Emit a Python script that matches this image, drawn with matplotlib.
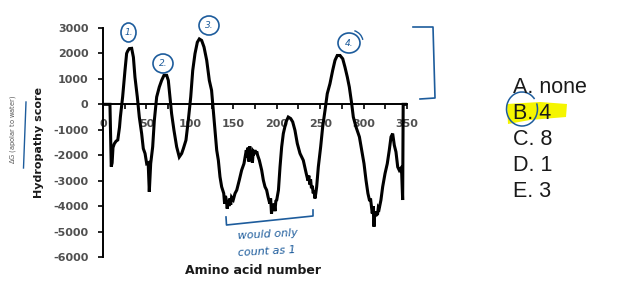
import matplotlib
matplotlib.use('Agg')
import matplotlib.pyplot as plt
from matplotlib.patches import Ellipse, Arc, Polygon
from matplotlib.lines import Line2D

plt.rcParams['axes.unicode_minus'] = False

# hydropathy profile (residue number, score)
residue = [0, 8, 9.5, 10.5, 11.5, 13, 15, 17, 19, 20, 22.6, 25.3, 27.2, 28.5, 30.3, 33, 35,
           36.8, 39.5, 41.8, 44.5, 46.4, 48.4, 50.3, 52, 53.3, 54.9, 57.2, 59.1, 61.8,
           64.8, 67.5, 70.2, 73.3, 75.2, 77.1, 79, 81.7, 84.8, 87.8, 90.6, 92.5, 95.5,
           98.2, 101, 103.3, 105.9, 108.6, 110.9, 113.6, 116.3, 119.4, 122.4, 125, 127,
           129, 130.9, 132.8, 134.7, 136.6, 139, 140, 141, 142, 143, 144, 145, 146, 147,
           148, 150, 152, 154, 156.9, 159.6, 162.3, 165, 166, 167, 168, 169, 170, 171,
           172, 173, 174, 175, 176, 177, 178, 180, 182.7, 184.6, 186.5, 188.4, 190, 192,
           193, 194, 195, 196, 197, 198, 199, 200, 202, 203.8, 205.7, 207.6, 210.7,
           213.3, 216.1, 218.4, 221, 223.7, 226.8, 230.6, 234, 236, 237, 238, 239, 240,
           241, 242, 243, 244, 245, 246, 247.9, 250.6, 252.9, 255.6, 258.2, 261.3,
           264.4, 267.1, 269.7, 272.9, 276, 278.6, 281.3, 283.6, 286.3, 288.2, 291.3,
           295.2, 297.8, 300.5, 302.8, 305, 307, 308, 310, 311, 312, 313, 314, 315, 316,
           317, 318, 320, 322, 324.7, 327.3, 329.6, 331.6, 333.5, 335.4, 337.3, 339.3,
           341.1, 342.7, 343.9, 345, 345.6, 350]
score = [0, 0, -2450, -2300, -1700, -1550, -1450, -1400, -900, -500, 290, 1330, 2000, 2100,
         2190, 2200, 1850, 1070, 290, -500, -1150, -1740, -1930, -2330, -2300, -3440,
         -2330, -1670, -630, 290, 680, 940, 1140, 1140, 940, 290, -370, -1020, -1670,
         -2070, -1930, -1740, -1410, -630, 290, 1330, 1990, 2440, 2570, 2510, 2250,
         1730, 940, 550, -240, -1020, -1800, -2200, -2850, -3240, -3500, -3900, -3600,
         -3760, -4100, -3800, -4000, -3700, -3950, -3650, -3750, -3500, -3370, -2980,
         -2590, -2330, -1800, -2100, -1700, -2250, -1650, -2000, -1900, -2300, -1850,
         -1900, -1800, -1950, -1850, -2000, -2200, -2590, -2980, -3240, -3370, -3630,
         -3900, -3700, -4300, -3950, -4100, -3900, -4200, -3800, -3760, -3370, -2460,
         -1670, -1150, -690, -500, -560, -690, -1020, -1540, -1930, -2200, -2720,
         -3000, -2800, -3150, -2950, -3300, -3200, -3500, -3400, -3700, -3500, -3240,
         -2460, -1670, -890, -240, 420, 810, 1330, 1730, 1920, 1920, 1790, 1460, 1070,
         680, 30, -500, -890, -1280, -1800, -2330, -2980, -3500, -3800, -3700, -4290,
         -4000, -4810, -4200, -4400, -4250, -4350, -4050, -4100, -3760, -3240, -2720,
         -2330, -1800, -1280, -1150, -1610, -1870, -2460, -2590, -2520, -2720, -3760,
         0, 0]

x_ticks = list(range(0, 351, 25))
x_labels = [str(v) if v % 50 == 0 else '' for v in x_ticks]
y_ticks = list(range(-6000, 3001, 1000))
choices = ['A. none', 'B. 4', 'C. 8', 'D. 1', 'E. 3']

W, H = 626, 286
blue = '#1d5c9c'
grey = '#505050'


def fx(px):
    return px / W


def fy(py):
    return 1 - py / H


fig = plt.figure(figsize=(W / 100, H / 100), dpi=100)
ax = fig.add_axes([fx(103), fy(257), fx(407) - fx(103), fy(28) - fy(257)])

ax.plot(residue, score, color='black', lw=2.2, solid_joinstyle='miter')
ax.set_xlim(0, 350)
ax.set_ylim(-6000, 3000)

for s in ['top', 'right']:
    ax.spines[s].set_visible(False)
ax.spines['bottom'].set_position(('data', 0))
ax.spines['bottom'].set_linewidth(1.4)
ax.spines['left'].set_linewidth(1.4)

ax.set_xticks(x_ticks)
ax.set_xticklabels(x_labels)
ax.set_yticks(y_ticks)
ax.tick_params(axis='both', direction='out', length=3.5, width=1.2,
               labelsize=8, labelcolor=grey)
ax.tick_params(axis='x', pad=7)
ax.tick_params(axis='y', pad=7)
for lab in ax.get_xticklabels() + ax.get_yticklabels():
    lab.set_fontweight('bold')

fig.text(fx(253), fy(270), 'Amino acid number', ha='center', va='center',
         fontsize=9, fontweight='bold', color='#1a1a1a')
fig.text(fx(39), fy(143), 'Hydropathy score', ha='center', va='center',
         rotation=90, fontsize=8, fontweight='bold', color='#1a1a1a')
fig.text(fx(13), fy(129), r'$\Delta$G (apolar to water)', ha='center', va='center',
         rotation=90, fontsize=4.8, color='#555555')
fig.add_artist(Line2D([fx(26), fx(23.5)], [fy(102), fy(168)], color=blue, lw=1))

# handwritten marks
for cx, cy, w, h, t in [(128.5, 32.5, 15, 19, '1.'), (163, 63.5, 20, 19, '2.'),
                        (209, 25.5, 20, 19, '3.'), (349, 43, 22, 20, '4.')]:
    fig.add_artist(Ellipse((fx(cx), fy(cy)), w / W, h / H, transform=fig.transFigure,
                           fill=False, ec=blue, lw=1.2))
    fig.text(fx(cx), fy(cy), t, ha='center', va='center', fontsize=6.5,
             color=blue, style='italic')
fig.add_artist(Arc((fx(350), fy(42)), 26 / W, 24 / H, theta1=20, theta2=80,
                   transform=fig.transFigure, ec=blue, lw=1))

fig.add_artist(Line2D([fx(413), fx(433), fx(435), fx(420)],
                      [fy(27), fy(27), fy(98), fy(99)], color=blue, lw=1.2))
fig.add_artist(Line2D([fx(226), fx(226.5), fx(313), fx(313)],
                      [fy(217), fy(225), fy(216), fy(210)], color=blue, lw=1.2))
fig.text(fx(268), fy(234), 'would only', ha='center', va='center', fontsize=8,
         color=blue, style='italic', rotation=3)
fig.text(fx(267), fy(251), 'count as 1', ha='center', va='center', fontsize=8,
         color=blue, style='italic', rotation=3)

# answer choices
fig.add_artist(Polygon([(fx(507), fy(104)), (fx(540), fy(102)), (fx(567), fy(104)),
                        (fx(566), fy(117)), (fx(530), fy(120)), (fx(508), fy(124))],
                       closed=True, transform=fig.transFigure, fc='#f5f500', ec='none'))
for i, c in enumerate(choices):
    fig.text(fx(513), fy(93 + 26 * i), c, ha='left', va='baseline', fontsize=15.5,
             family='Liberation Sans', color='#1a1a1a')
fig.add_artist(Arc((fx(522), fy(109)), 31 / W, 34 / H, theta1=60, theta2=400,
                   transform=fig.transFigure, ec=blue, lw=1.1))

fig.savefig('out.png', dpi=100)
